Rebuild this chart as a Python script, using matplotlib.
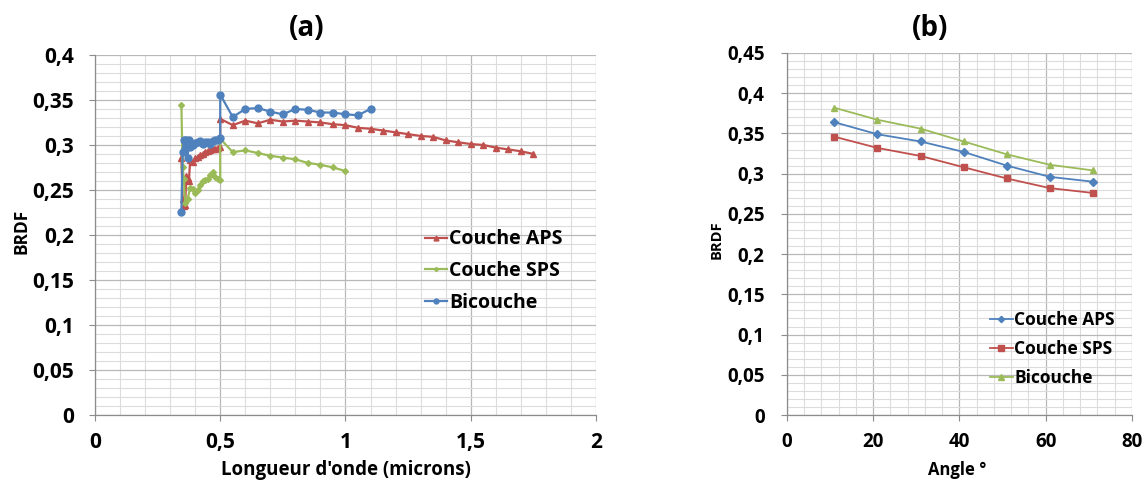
import matplotlib.pyplot as plt
from matplotlib.ticker import MultipleLocator, FuncFormatter

plt.rcParams['font.family'] = ['Open Sans', 'DejaVu Sans']
plt.rcParams['font.weight'] = 'bold'

# ---- (a) BRDF vs longueur d'onde
aps_x = [0.345, 0.35, 0.355, 0.36, 0.365, 0.37, 0.375, 0.38, 0.39, 0.40, 0.41, 0.42, 0.43,
         0.44, 0.45, 0.46, 0.47, 0.48, 0.49, 0.50,
         0.50, 0.55, 0.60, 0.65, 0.70, 0.75, 0.80, 0.85, 0.90, 0.95, 1.00, 1.05, 1.10,
         1.15, 1.20, 1.25, 1.30, 1.35, 1.40, 1.45, 1.50, 1.55, 1.60, 1.65, 1.70, 1.75]
aps_y = [0.285, 0.240, 0.232, 0.233, 0.266, 0.263, 0.260, 0.283, 0.281, 0.285, 0.287, 0.289, 0.290,
         0.292, 0.293, 0.294, 0.295, 0.296, 0.297, 0.298,
         0.329, 0.322, 0.327, 0.324, 0.328, 0.326, 0.327, 0.326, 0.325, 0.323, 0.322, 0.319, 0.318,
         0.316, 0.314, 0.312, 0.310, 0.309, 0.305, 0.303, 0.301, 0.300, 0.297, 0.295, 0.293, 0.290]

sps_x = [0.345, 0.35, 0.355, 0.36, 0.37, 0.38, 0.39, 0.40, 0.41, 0.42, 0.43, 0.44, 0.45,
         0.46, 0.47, 0.48, 0.49, 0.50,
         0.50, 0.55, 0.60, 0.65, 0.70, 0.75, 0.80, 0.85, 0.90, 0.95, 1.00]
sps_y = [0.344, 0.275, 0.262, 0.236, 0.240, 0.252, 0.251, 0.247, 0.250, 0.256, 0.260, 0.261, 0.262,
         0.267, 0.270, 0.264, 0.262, 0.261,
         0.307, 0.292, 0.294, 0.291, 0.288, 0.286, 0.284, 0.280, 0.278, 0.275, 0.271]

bic_x = [0.345, 0.35, 0.355, 0.36, 0.365, 0.37, 0.375, 0.38, 0.39, 0.40, 0.41, 0.42, 0.43,
         0.44, 0.45, 0.46, 0.47, 0.48, 0.49, 0.50,
         0.50, 0.55, 0.60, 0.65, 0.70, 0.75, 0.80, 0.85, 0.90, 0.95, 1.00, 1.05, 1.10]
bic_y = [0.226, 0.292, 0.305, 0.296, 0.305, 0.286, 0.306, 0.298, 0.300, 0.302, 0.303, 0.304, 0.301,
         0.303, 0.303, 0.301, 0.304, 0.305, 0.306, 0.308,
         0.356, 0.331, 0.340, 0.341, 0.337, 0.334, 0.340, 0.339, 0.336, 0.336, 0.334, 0.333, 0.340]

# ---- (b) BRDF vs angle
angles = [11, 21, 31, 41, 51, 61, 71]
b_aps = [0.364, 0.349, 0.340, 0.327, 0.310, 0.296, 0.290]
b_sps = [0.346, 0.332, 0.322, 0.308, 0.294, 0.282, 0.276]
b_bic = [0.382, 0.367, 0.356, 0.340, 0.324, 0.311, 0.304]

BLUE = '#4F81BD'
RED = '#C0504D'
GREEN = '#9BBB59'


def comma(v, pos):
    s = f'{round(v, 4):g}'
    return s.replace('.', ',')


def style(ax, xmaj, xmin, fs, ypad):
    ax.yaxis.set_major_locator(MultipleLocator(0.05))
    ax.yaxis.set_minor_locator(MultipleLocator(0.01))
    ax.xaxis.set_major_locator(MultipleLocator(xmaj))
    ax.xaxis.set_minor_locator(MultipleLocator(xmin))
    ax.xaxis.set_major_formatter(FuncFormatter(comma))
    ax.yaxis.set_major_formatter(FuncFormatter(comma))
    ax.grid(which='major', color='#b8b8b8', lw=0.9)
    ax.grid(which='minor', color='#dcdcdc', lw=0.8)
    ax.set_axisbelow(True)
    for s in ['top', 'right']:
        ax.spines[s].set_visible(False)
    for s in ['left', 'bottom']:
        ax.spines[s].set_color('#8c8c8c')
        ax.spines[s].set_linewidth(0.9)
    ax.tick_params(which='major', length=4, color='#8c8c8c', labelsize=fs)
    ax.tick_params(which='minor', length=0)
    ax.tick_params(axis='x', pad=8)
    ax.tick_params(axis='y', pad=ypad)


fig = plt.figure(figsize=(11.44, 4.86), dpi=100)

ax1 = fig.add_axes([0.083, 0.146, 0.438, 0.741])
ax1.plot(aps_x, aps_y, color=RED, lw=1.6, marker='^', ms=5, label='Couche APS')
ax1.plot(sps_x, sps_y, color=GREEN, lw=1.6, marker='D', ms=3, label='Couche SPS')
ax1.plot(bic_x, bic_y, color=BLUE, lw=1.6, marker='o', ms=5, label='Bicouche')
ax1.set_xlim(0, 2)
ax1.set_ylim(0, 0.4)
style(ax1, 0.5, 0.1, 15, 11)
ax1.legend(loc='center left', bbox_to_anchor=(0.659, 0.40), frameon=False,
           borderpad=0, borderaxespad=0, handlelength=1.1, handletextpad=0.15,
           labelspacing=0.6, fontsize=14, markerscale=0.7)

ax2 = fig.add_axes([0.6877, 0.146, 0.3018, 0.745])
ax2.plot(angles, b_aps, color=BLUE, lw=1.3, marker='D', ms=4, label='Couche APS')
ax2.plot(angles, b_sps, color=RED, lw=1.3, marker='s', ms=5, label='Couche SPS')
ax2.plot(angles, b_bic, color=GREEN, lw=1.3, marker='^', ms=5, label='Bicouche')
ax2.set_xlim(0, 80)
ax2.set_ylim(0, 0.45)
style(ax2, 20, 4, 13.5, 12)
ax2.legend(loc='center left', bbox_to_anchor=(0.589, 0.182), frameon=False,
           borderpad=0, borderaxespad=0, handlelength=1.3, handletextpad=0.1,
           labelspacing=0.62, fontsize=12.5, markerscale=0.8)

fig.text(0.268, 0.942, '(a)', fontsize=20, ha='center', va='center')
fig.text(0.813, 0.942, '(b)', fontsize=20, ha='center', va='center')
fig.text(0.019, 0.523, 'BRDF', fontsize=12.5, rotation=90, ha='center', va='center')
fig.text(0.302, 0.033, "Longueur d'onde (microns)", fontsize=13.5, ha='center', va='center')
fig.text(0.626, 0.506, 'BRDF', fontsize=10.5, rotation=90, ha='center', va='center')
fig.text(0.837, 0.033, 'Angle °', fontsize=12, ha='center', va='center')

fig.savefig('out.png', dpi=100)
